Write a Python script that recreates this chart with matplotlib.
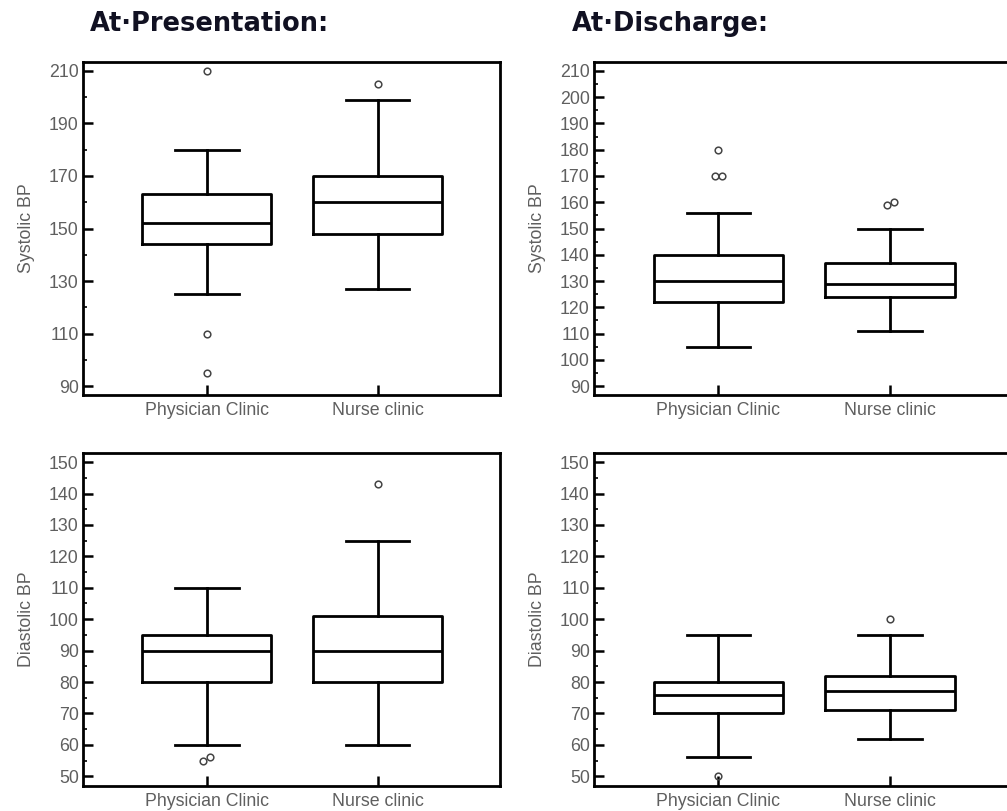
import matplotlib
matplotlib.use("Agg")
import matplotlib.pyplot as plt
import numpy as np

groups = ["Physician Clinic", "Nurse clinic"]

# at presentation, systolic
pres_sys_low = [125, 127]
pres_sys_q1 = [144, 148]
pres_sys_med = [152, 160]
pres_sys_q3 = [163, 170]
pres_sys_high = [180, 199]
pres_sys_out = [[210, 110, 95], [205]]

# at discharge, systolic
dis_sys_low = [105, 111]
dis_sys_q1 = [122, 124]
dis_sys_med = [130, 129]
dis_sys_q3 = [140, 137]
dis_sys_high = [156, 150]
dis_sys_out = [[180, 170, 170], [159, 160]]

# at presentation, diastolic
pres_dia_low = [60, 60]
pres_dia_q1 = [80, 80]
pres_dia_med = [90, 90]
pres_dia_q3 = [95, 101]
pres_dia_high = [110, 125]
pres_dia_out = [[55, 56], [143]]

# at discharge, diastolic
dis_dia_low = [56, 62]
dis_dia_q1 = [70, 71]
dis_dia_med = [76, 77]
dis_dia_q3 = [80, 82]
dis_dia_high = [95, 95]
dis_dia_out = [[50], [100]]

plt.rcParams['font.family'] = ['Liberation Sans', 'DejaVu Sans']

fig = plt.figure(figsize=(10.07, 8.11), dpi=100)

W = 417 / 1007
H = 333 / 811
ax_tl = fig.add_axes([83 / 1007, 1 - 395 / 811, W, H])
ax_tr = fig.add_axes([594 / 1007, 1 - 395 / 811, 419 / 1007, H])
ax_bl = fig.add_axes([83 / 1007, 1 - 786 / 811, W, H])
ax_br = fig.add_axes([594 / 1007, 1 - 786 / 811, 419 / 1007, H])

lw = 2.0
gray = "#5f5f5f"
fs = 12.8


def draw(ax, low, q1, med, q3, high, out, ylabel, ylim, major, minor):
    stats = []
    for i in range(len(groups)):
        stats.append(dict(whislo=low[i], q1=q1[i], med=med[i], q3=q3[i],
                          whishi=high[i], fliers=[]))
    ax.bxp(stats, positions=[1, 2], widths=0.755, capwidths=0.37,
           showfliers=False,
           boxprops=dict(color="black", linewidth=lw),
           medianprops=dict(color="black", linewidth=lw),
           whiskerprops=dict(color="black", linewidth=lw),
           capprops=dict(color="black", linewidth=lw))
    # outliers, nudged sideways when they nearly coincide
    for i, vals in enumerate(out):
        xs = []
        for j, v in enumerate(vals):
            close = [k for k, w in enumerate(vals) if abs(w - v) <= 1.5]
            if len(close) > 1:
                xs.append(i + 1 + (close.index(j) - (len(close) - 1) / 2) * 0.04)
            else:
                xs.append(i + 1)
        ax.plot(xs, vals, 'o', ms=4.8, mfc="none", mec="#444444", mew=1.1)
    ax.set_xlim(0.275, 2.715)
    ax.set_ylim(*ylim)
    ax.set_xticks([1, 2])
    ax.set_xticklabels(groups)
    ax.set_yticks(major)
    ax.set_yticks(minor, minor=True)
    ax.tick_params(axis='both', which='major', direction='in', length=7,
                   width=1.8, labelsize=fs, labelcolor=gray, pad=3)
    ax.tick_params(axis='y', which='minor', direction='in', length=3,
                   width=1.2)
    ax.tick_params(axis='x', pad=5)
    ax.tick_params(top=False, right=False)
    for s in ax.spines.values():
        s.set_linewidth(lw)
    ax.set_ylabel(ylabel, color=gray, fontsize=fs, labelpad=10)


draw(ax_tl, pres_sys_low, pres_sys_q1, pres_sys_med, pres_sys_q3,
     pres_sys_high, pres_sys_out, "Systolic BP", (86.6, 213.4),
     np.arange(90, 211, 20), np.arange(100, 201, 20))
draw(ax_tr, dis_sys_low, dis_sys_q1, dis_sys_med, dis_sys_q3,
     dis_sys_high, dis_sys_out, "Systolic BP", (86.6, 213.4),
     np.arange(90, 211, 10), np.arange(95, 206, 10))
draw(ax_bl, pres_dia_low, pres_dia_q1, pres_dia_med, pres_dia_q3,
     pres_dia_high, pres_dia_out, "Diastolic BP", (46.9, 152.9),
     np.arange(50, 151, 10), np.arange(55, 146, 10))
draw(ax_br, dis_dia_low, dis_dia_q1, dis_dia_med, dis_dia_q3,
     dis_dia_high, dis_dia_out, "Diastolic BP", (46.9, 152.9),
     np.arange(50, 151, 10), np.arange(55, 146, 10))

fig.text(90 / 1007, 1 - 24 / 811, "At\u00b7Presentation:", fontsize=18.5,
         fontweight='bold', family='DejaVu Sans', color="#111122",
         va='center', ha='left')
fig.text(572 / 1007, 1 - 24 / 811, "At\u00b7Discharge:", fontsize=18.5,
         fontweight='bold', family='DejaVu Sans', color="#111122",
         va='center', ha='left')

plt.savefig("out.png", dpi=100)
